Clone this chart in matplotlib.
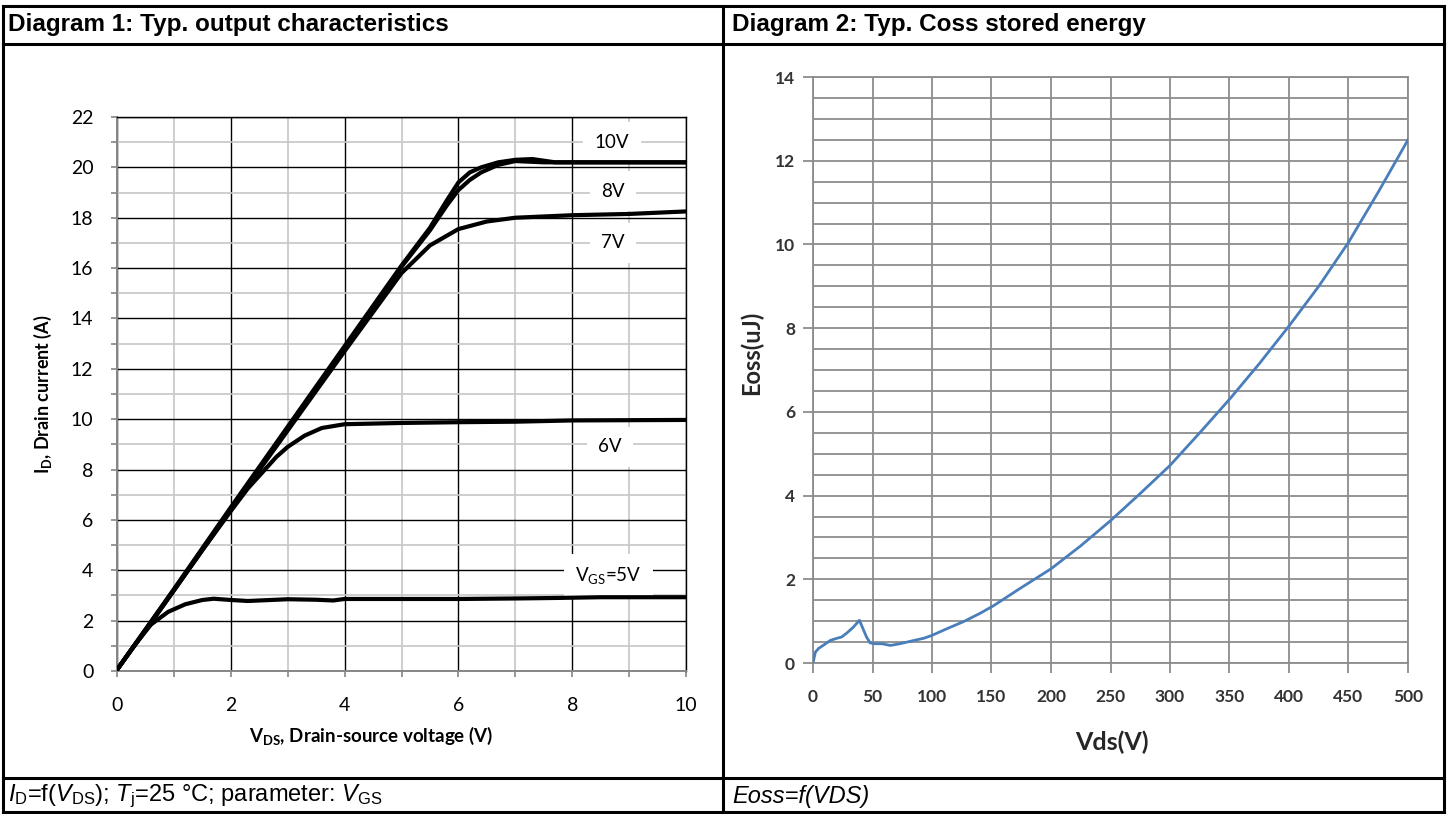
import matplotlib
matplotlib.use("Agg")
import matplotlib.pyplot as plt
from matplotlib.lines import Line2D
from matplotlib.ticker import MultipleLocator

plt.rcParams["mathtext.fontset"] = "custom"
plt.rcParams["mathtext.rm"] = "Lato"
plt.rcParams["mathtext.bf"] = "Lato:bold"
plt.rcParams["mathtext.sf"] = "Liberation Sans"
plt.rcParams["mathtext.it"] = "Liberation Sans:italic"

# Diagram 1: output characteristics (VDS in V, ID in A)
vds_5v = [0, 0.3, 0.6, 0.9, 1.2, 1.5, 1.7, 2.0, 2.3, 3.0, 3.5, 3.8, 4.0, 5.0, 6.0, 7.0, 7.7, 8.5, 10.0]
id_5v = [0.05, 1.0, 1.85, 2.35, 2.65, 2.82, 2.87, 2.82, 2.78, 2.85, 2.83, 2.8, 2.86, 2.86, 2.86, 2.88, 2.9, 2.93, 2.93]

vds_6v = [0, 0.5, 1.0, 1.5, 2.0, 2.3, 2.5, 2.8, 3.0, 3.3, 3.6, 4.0, 5.0, 6.0, 7.0, 8.0, 10.0]
id_6v = [0.05, 1.6, 3.2, 4.8, 6.35, 7.25, 7.75, 8.5, 8.9, 9.35, 9.65, 9.8, 9.85, 9.88, 9.9, 9.95, 9.97]

vds_7v = [0, 1.0, 2.0, 3.0, 4.0, 4.5, 5.0, 5.5, 6.0, 6.5, 7.0, 8.0, 9.0, 10.0]
id_7v = [0.05, 3.2, 6.4, 9.55, 12.7, 14.25, 15.8, 16.9, 17.55, 17.85, 18.0, 18.1, 18.15, 18.25]

vds_8v = [0, 1.0, 2.0, 3.0, 4.0, 5.0, 5.5, 5.8, 6.0, 6.2, 6.4, 6.7, 7.0, 7.5, 8.5, 10.0]
id_8v = [0.05, 3.22, 6.45, 9.65, 12.85, 16.05, 17.5, 18.5, 19.1, 19.5, 19.8, 20.1, 20.25, 20.2, 20.2, 20.2]

vds_10v = [0, 1.0, 2.0, 3.0, 4.0, 5.0, 5.5, 5.8, 6.0, 6.2, 6.4, 6.7, 7.0, 7.3, 7.7, 8.5, 10.0]
id_10v = [0.05, 3.25, 6.5, 9.7, 12.9, 16.1, 17.6, 18.7, 19.4, 19.8, 20.0, 20.2, 20.3, 20.33, 20.2, 20.2, 20.2]

curve_labels = ["10V", "8V", "7V", "6V", r"V$_{\mathrm{GS}}$=5V"]
label_x = [8.7, 8.72, 8.72, 8.66, 8.63]
label_y = [21.0, 19.06, 17.0, 8.9, 3.8]

# Diagram 2: Eoss stored energy (VDS in V, Eoss in uJ)
vds_e = [0, 2, 4.8, 9, 14.6, 20, 24, 28.6, 34, 39, 42, 45, 48, 52, 58, 65, 73, 85, 93, 100,
         112.6, 126.6, 140.6, 151.8, 175, 200, 225, 250, 275, 300, 325, 350, 375, 400,
         425, 450, 475, 500]
eoss = [0, 0.26, 0.35, 0.43, 0.54, 0.59, 0.62, 0.72, 0.86, 1.02, 0.82, 0.62, 0.48, 0.46, 0.46,
        0.42, 0.46, 0.54, 0.59, 0.66, 0.82, 0.99, 1.19, 1.37, 1.8, 2.25, 2.8, 3.4, 4.05,
        4.72, 5.5, 6.3, 7.15, 8.05, 9.0, 10.05, 11.25, 12.5]

W, H = 1450, 814
fig = plt.figure(figsize=(W / 100, H / 100), dpi=100)


def px_line(x0, y0, x1, y1, lw=2.2):
    fig.add_artist(Line2D([x0 / W, x1 / W], [1 - y0 / H, 1 - y1 / H],
                          transform=fig.transFigure, color="black", lw=lw,
                          solid_capstyle="projecting"))


def px_text(x, y, s, **kw):
    fig.text(x / W, 1 - y / H, s, va="center", ha="left", **kw)


# table frame
px_line(3, 6, 1444, 6)
px_line(3, 44, 1444, 44)
px_line(3, 778, 1444, 778)
px_line(3, 812, 1444, 812)
px_line(3, 6, 3, 812)
px_line(723, 6, 723, 812)
px_line(1444, 6, 1444, 812)

px_text(8, 25, "Diagram 1: Typ. output characteristics", family="Liberation Sans",
        fontweight="bold", fontsize=17.5)
px_text(732, 25, "Diagram 2: Typ. Coss stored energy", family="Liberation Sans",
        fontweight="bold", fontsize=17.5)
px_text(8, 796, r"$\mathit{I}_{\mathsf{D}}$=f($\mathit{V}_{\mathsf{DS}}$); "
        r"$\mathit{T}_{\mathsf{j}}$=25 °C; parameter: $\mathit{V}_{\mathsf{GS}}$",
        family="Liberation Sans", fontsize=17)
px_text(732, 796, "Eoss=f(VDS)", family="Liberation Sans", fontstyle="italic", fontsize=17)

# ---- diagram 1 ----
ax1 = fig.add_axes([117 / W, 1 - 671 / H, 569 / W, 554 / H])
for vx, vy in [(vds_5v, id_5v), (vds_6v, id_6v), (vds_7v, id_7v), (vds_8v, id_8v), (vds_10v, id_10v)]:
    ax1.plot(vx, vy, color="black", lw=3.0, solid_capstyle="round", zorder=5)
ax1.set_xlim(0, 10)
ax1.set_ylim(0, 22)
ax1.xaxis.set_major_locator(MultipleLocator(2))
ax1.xaxis.set_minor_locator(MultipleLocator(1))
ax1.yaxis.set_major_locator(MultipleLocator(2))
ax1.yaxis.set_minor_locator(MultipleLocator(1))
ax1.grid(which="major", color="black", lw=1.0, zorder=1)
ax1.grid(which="minor", color="#c6c6c6", lw=1.2, zorder=0.8)
ax1.tick_params(which="both", direction="out", length=4, width=1.2, color="#868686")
ax1.tick_params(axis="x", which="major", pad=15, labelsize=14)
ax1.tick_params(axis="y", which="major", pad=13, labelsize=14)
for lab in ax1.get_xticklabels() + ax1.get_yticklabels():
    lab.set_family("Lato")
for side in ["left", "bottom"]:
    ax1.spines[side].set_color("#868686")
    ax1.spines[side].set_linewidth(1.4)
for side in ["top", "right"]:
    ax1.spines[side].set_color("black")
    ax1.spines[side].set_linewidth(1.0)
ax1.set_xlabel(r"$\mathbf{V_{DS}}$, Drain-source voltage (V)", family="Lato",
               fontweight="bold", fontsize=13.5)
ax1.set_ylabel(r"$\mathbf{I_D}$, Drain current (A)", family="Lato",
               fontweight="bold", fontsize=13)
ax1.xaxis.set_label_coords(0.447, -0.097)
ax1.yaxis.set_label_coords(-0.11, 0.5)
for s, lx, ly in zip(curve_labels, label_x, label_y):
    ax1.text(lx, ly, s, ha="center", va="center", family="Lato", fontsize=13.5, zorder=4,
             bbox=dict(facecolor="white", edgecolor="none", boxstyle="square,pad=0.6"))

# ---- diagram 2 ----
ax2 = fig.add_axes([813 / W, 1 - 663 / H, 595 / W, 586 / H])
ax2.plot(vds_e, eoss, color="#4a7ebb", lw=2.0, zorder=3)
ax2.set_xlim(0, 500)
ax2.set_ylim(0, 14)
ax2.xaxis.set_major_locator(MultipleLocator(50))
ax2.yaxis.set_major_locator(MultipleLocator(2))
ax2.yaxis.set_minor_locator(MultipleLocator(0.5))
ax2.grid(which="both", color="#8c8c8c", lw=1.3, zorder=1)
ax2.tick_params(which="major", direction="out", length=7, width=1.3, color="#8c8c8c",
                labelsize=12.5, labelcolor="#333333")
ax2.tick_params(which="minor", length=0)
ax2.tick_params(axis="x", pad=12)
ax2.tick_params(axis="y", pad=6)
for lab in ax2.get_xticklabels() + ax2.get_yticklabels():
    lab.set_family("Lato")
    lab.set_fontweight("bold")
for side in ax2.spines:
    ax2.spines[side].set_color("#8c8c8c")
    ax2.spines[side].set_linewidth(1.3)
ax2.set_xlabel("Vds(V)", family="Lato", fontweight="bold", fontsize=18, color="#262626")
ax2.set_ylabel("Eoss(uJ)", family="Lato", fontweight="bold", fontsize=17, color="#262626")
ax2.xaxis.set_label_coords(0.503, -0.115)
ax2.yaxis.set_label_coords(-0.084, 0.53)

fig.savefig("out.png", dpi=100)
